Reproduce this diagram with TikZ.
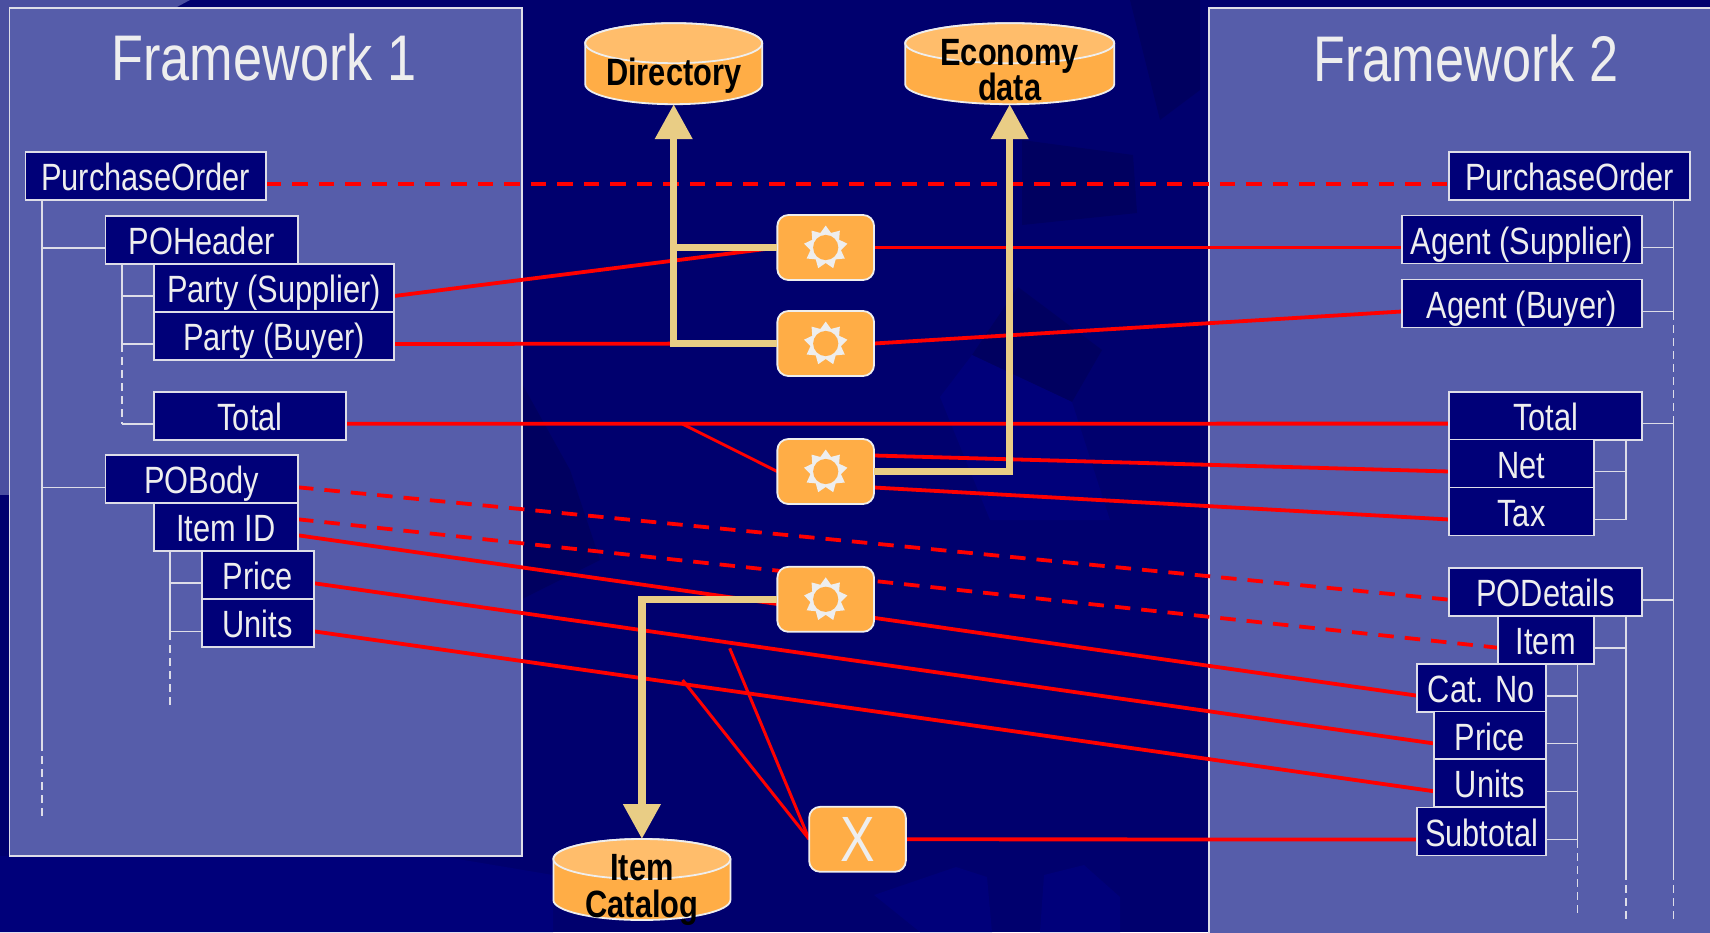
\documentclass[tikz,border=0pt]{standalone}
\usepackage{fontspec}
\setmainfont[FakeStretch=0.81]{Liberation Sans}
\usetikzlibrary{positioning,shapes.geometric,arrows.meta,backgrounds,calc}

\definecolor{bgnavy}{HTML}{00006E}
\definecolor{bgdark}{HTML}{000060}
\definecolor{bglight}{HTML}{00007A}
\definecolor{bgpale}{HTML}{4A4FA0}
\definecolor{panelblue}{HTML}{565DAA}
\definecolor{boxnavy}{HTML}{000078}
\definecolor{edgegrey}{HTML}{DDDDE8}
\definecolor{paper}{HTML}{EEEEEE}
\definecolor{orangefill}{HTML}{FFAD46}
\definecolor{orangetop}{HTML}{FFBD6B}
\definecolor{pipesand}{HTML}{E9CD85}

\newcommand{\rowdrop}{8pt}

% Cylinder round an empty store node: node name, half width
\newcommand{\drawstore}[2]{
    \path[storeline, fill=orangefill] ([yshift=-20pt]#1.north west) -- ([yshift=20pt]#1.south west)
        arc (180:360:#2pt and 20pt) -- ([yshift=-20pt]#1.north east) arc (0:180:#2pt and 20pt) -- cycle;
    \path[storeline, fill=orangetop] ([yshift=-20pt]#1.north) ellipse (#2pt and 20pt);
}

\tikzset{
    x=1pt, y=-1pt,
    panel/.style={draw=edgegrey, fill=panelblue, line width=1.8pt},
    paneltitle/.style={text=paper, font=\fontsize{64.5pt}{64.5pt}\selectfont, inner sep=0pt},
    box/.style={draw=edgegrey, fill=boxnavy, text=paper, line width=1.8pt, inner sep=0pt, outer sep=0pt,
        minimum height=48pt, text height=29pt, text depth=0pt, font=\fontsize{38pt}{38pt}\selectfont},
    tree/.style={draw=edgegrey, line width=1.6pt},
    treedash/.style={tree, dash pattern=on 8pt off 5pt},
    link/.style={draw=red, line width=3.8pt},
    linkdash/.style={link, dash pattern=on 15.5pt off 11pt},
    tap/.style={draw=red, line width=3pt},
    pipe/.style={draw=pipesand, line width=7.5pt},
    pipehead/.style={pipe, -{Triangle[width=36pt,length=35pt]}},
    store/.style={inner sep=0pt, outer sep=0pt, minimum height=81pt},
    storeline/.style={draw=paper, line width=1.8pt},
    storetext/.style={text=black, align=center, inner sep=0pt, anchor=base,
        font=\fontsize{38pt}{35pt}\selectfont\bfseries},
    engine/.style={draw=paper, fill=orangefill, line width=1.8pt, rounded corners=11pt, outer sep=0pt,
        inner sep=0pt, minimum width=96.7pt, minimum height=65pt},
    sun/.style={engine, path picture={
        \fill[paper, sharp corners, shift={(path picture bounding box.center)}] (90:22pt)
            \foreach \a in {90,130,...,410} { -- (\a+20:15.5pt) -- (\a+40:22pt) } -- cycle;
        \fill[orangefill] (path picture bounding box.center) circle (12.6pt);
    }},
}

\begin{document}
\begin{tikzpicture}
    \useasboundingbox (0,0) rectangle (1710,932);

    % Framework 1
    \node[box, minimum width=240.5pt] (po1) at (145.7,176) {PurchaseOrder};
    \node[box, minimum width=192.6pt] (poheader) at (201.7,239.7) {POHeader};
    \node[box, minimum width=240.2pt] (partysup) at (274,288) {Party (Supplier)};
    \node[box, minimum width=240.2pt] (partybuy) at (274,336) {Party (Buyer)};
    \node[box, minimum width=192.2pt] (total1) at (250,415.8) {Total};
    \node[box, minimum width=192.6pt] (pobody) at (201.7,479.3) {POBody};
    \node[box, minimum width=144.2pt] (itemid) at (225.9,527.3) {Item ID};
    \node[box, minimum width=112pt] (price1) at (257.7,575.2) {Price};
    \node[box, minimum width=112pt] (units1) at (257.7,623.3) {Units};

    % Framework 2
    \node[box, minimum width=240.7pt] (po2) at (1569.6,176) {PurchaseOrder};
    \node[box, minimum width=240.3pt] (agentsup) at (1521.9,239.5) {Agent (Supplier)};
    \node[box, minimum width=240.3pt] (agentbuy) at (1521.9,303.5) {Agent (Buyer)};
    \node[box, minimum width=192.7pt] (total2) at (1545.6,415.6) {Total};
    \node[box, minimum width=144.4pt] (net) at (1521.5,463.5) {Net};
    \node[box, minimum width=144.4pt] (tax) at (1521.5,511.5) {Tax};
    \node[box, minimum width=192.7pt] (podetails) at (1545.6,591.7) {PODetails};
    \node[box, minimum width=96pt] (item) at (1545.7,639.7) {Item};
    \node[box, minimum width=128.4pt] (catno) at (1481.5,687.7) {Cat. No};
    \node[box, minimum width=111.4pt] (price2) at (1490,735.5) {Price};
    \node[box, minimum width=111.4pt] (units2) at (1490,783.3) {Units};
    \node[box, minimum width=128.4pt] (subtotal) at (1481.5,831.5) {Subtotal};

    % Stores and engines
    \node[store, minimum width=177pt] (directory) at (673.7,63.7) {};
    \node[store, minimum width=209pt] (economy) at (1009.7,63.7) {};
    \node[store, minimum width=177pt] (catalog) at (641.9,879.5) {};
    \drawstore{directory}{88.5}
    \drawstore{economy}{104.5}
    \drawstore{catalog}{88.5}
    \node[storetext] (directorytext) at (673.7,85) {Directory};
    \node[storetext] (economytext) at (1009.7,100) {Economy\\[-2pt]data};
    \node[storetext] (catalogtext) at (641.9,917) {Item\\[2pt]Catalog};
    \node[sun] (gear1) at (825.7,247.5) {};
    \node[sun] (gear2) at (825.7,343.5) {};
    \node[sun] (gear3) at (825.7,471.5) {};
    \node[sun] (gear4) at (825.7,599.3) {};
    \node[engine, text=paper, font=\fontsize{64pt}{64pt}\selectfont] (times) at (857.5,839.3) {X};

    \coordinate (taptotal) at (682.4,424);
    \coordinate (tapprice) at (729.7,648.3);
    \coordinate (tapunits) at (682.6,680);

    \begin{scope}[on background layer]
        % Slide background
        \fill[bgnavy] (0,0) rectangle (1710,932);
        \fill[bglight] (0,856) -- (440,856) -- (553,875) -- (553,932) -- (0,932) -- cycle;
        \fill[bgpale] (0,0) -- (150,0) -- (0,30) -- cycle;
        \fill[bgpale] (0,0) rectangle (9,495);
        \fill[bgpale] (55,0) -- (190,0) -- (175,8) -- (115,8) -- cycle;
        \fill[bgdark] (1022,140) -- (1133,155) -- (1137,213) -- (1022,225) -- cycle;
        \fill[bgdark] (1018,287) -- (1102,350) -- (1072,402) -- (972,355) -- cycle;
        \fill[bgdark] (1130,0) -- (1200,0) -- (1200,90) -- (1160,120) -- cycle;
        \fill[bgdark] (520,380) -- (570,470) -- (600,560) -- (520,600) -- cycle;
        \fill[bglight] (874,895) -- (956,867) -- (987,877) -- (992,932) -- (920,932) -- cycle;
        \fill[bglight] (1044,875) -- (1084,865) -- (1120,897) -- (1120,932) -- (1040,932) -- cycle;
        \fill[bglight] (940,397) -- (972,355) -- (1072,402) -- (1110,520) -- (990,520) -- cycle;

        % Panels
        \path[panel] (9.5,8) rectangle (522,856);
        \path[panel] (1209,8) rectangle (1730,950);
        \node[paneltitle, anchor=base] (title1) at (264,80) {Framework 1};
        \node[paneltitle, anchor=base] (title2) at (1466,81) {Framework 2};

        % Tree of framework 1
        \coordinate (spinea) at (41.8,200);
        \coordinate (spineb) at (121.8,264);
        \coordinate (spinec) at (169.8,551.3);
        \path[tree] (spinea) -- (41.8,743);
        \path[treedash] (41.8,743) -- (41.8,819);
        \path[tree] (spinea) |- ([yshift=-\rowdrop]poheader.west);
        \path[tree] (spinea) |- ([yshift=-\rowdrop]pobody.west);
        \path[tree] (spineb) |- ([yshift=-\rowdrop]partysup.west);
        \path[tree] (spineb) |- ([yshift=-\rowdrop]partybuy.west);
        \path[treedash] (121.8,344) -- (121.8,423.8);
        \path[tree] (121.8,423.8) -- ([yshift=-\rowdrop]total1.west);
        \path[tree] (spinec) |- ([yshift=-\rowdrop]price1.west);
        \path[tree] (spinec) |- ([yshift=-\rowdrop]units1.west);
        \path[treedash] (169.8,632) -- (169.8,706.7);

        % Tree of framework 2
        \coordinate (spined) at (1673.3,200);
        \coordinate (spinee) at (1625.7,440);
        \coordinate (spinef) at (1625.7,615.7);
        \coordinate (spineg) at (1577.3,663.7);
        \path[tree] (spined) |- ([yshift=-\rowdrop]agentsup.east);
        \path[tree] (spined) |- ([yshift=-\rowdrop]agentbuy.east);
        \path[treedash] (1673.3,312) -- (1673.3,423.6);
        \path[tree] (1673.3,423.6) -- ([yshift=-\rowdrop]total2.east);
        \path[tree] (1673.3,423.6) |- ([yshift=-\rowdrop]podetails.east);
        \path[tree] (1673.3,599.7) -- (1673.3,872);
        \path[treedash] (1673.3,872) -- (1673.3,920);
        \path[tree] (spinee) |- ([yshift=-\rowdrop]net.east);
        \path[tree] (spinee) |- ([yshift=-\rowdrop]tax.east);
        \path[tree] (spinef) |- ([yshift=-\rowdrop]item.east);
        \path[tree] (1625.7,647) -- (1625.7,872);
        \path[treedash] (1625.7,872) -- (1625.7,920);
        \path[tree] (spineg) |- ([yshift=-\rowdrop]catno.east);
        \path[tree] (spineg) |- ([yshift=-\rowdrop]price2.east);
        \path[tree] (spineg) |- ([yshift=-\rowdrop]units2.east);
        \path[tree] (spineg) |- ([yshift=-\rowdrop]subtotal.east);
        \path[treedash] (1577.3,840) -- (1577.3,915);

        % Mappings across the frameworks
        \path[linkdash] ([yshift=-\rowdrop]po1.east) -- ([yshift=-\rowdrop]po2.west);
        \path[link] ([yshift=-\rowdrop]partysup.east) -- (gear1.west);
        \path[link] ([yshift=-\rowdrop]partybuy.east) -- (gear2.west);
        \path[link] (gear1.east) -- ([yshift=-\rowdrop]agentsup.west);
        \path[link] (gear2.east) -- ([yshift=-\rowdrop]agentbuy.west);
        \path[link] ([yshift=-\rowdrop]total1.east) -- ([yshift=-\rowdrop]total2.west);
        \path[tap] (taptotal) -- (gear3.west);
        \path[link] ([yshift=16pt]gear3.east) -- ([yshift=-\rowdrop]net.west);
        \path[link] ([yshift=-16pt]gear3.east) -- ([yshift=-\rowdrop]tax.west);
        \path[linkdash] ([yshift=-\rowdrop]pobody.east) -- ([yshift=-\rowdrop]podetails.west);
        \path[linkdash] ([yshift=\rowdrop]itemid.east) -- ([yshift=-\rowdrop]item.west);
        \path[link] ([yshift=-\rowdrop]itemid.east) -- ([yshift=-\rowdrop]catno.west);
        \path[link] ([yshift=-\rowdrop]price1.east) -- ([yshift=-\rowdrop]price2.west);
        \path[link] ([yshift=-\rowdrop]units1.east) -- ([yshift=-\rowdrop]units2.west);
        \path[link] (times.east) -- ([yshift=-\rowdrop]subtotal.west);
        \path[tap] (tapprice) -- (times.west);
        \path[tap] (tapunits) -- (times.west);
    \end{scope}

    % Pipes to the stores
    \path[pipehead] (gear2.west) -| (directory.south);
    \path[pipe] (gear1.west) -- (gear1.west -| directory.south);
    \path[pipehead] (gear3.east) -| (economy.south);
    \path[pipehead] (gear4.west) -| (catalog.north);
\end{tikzpicture}
\end{document}
